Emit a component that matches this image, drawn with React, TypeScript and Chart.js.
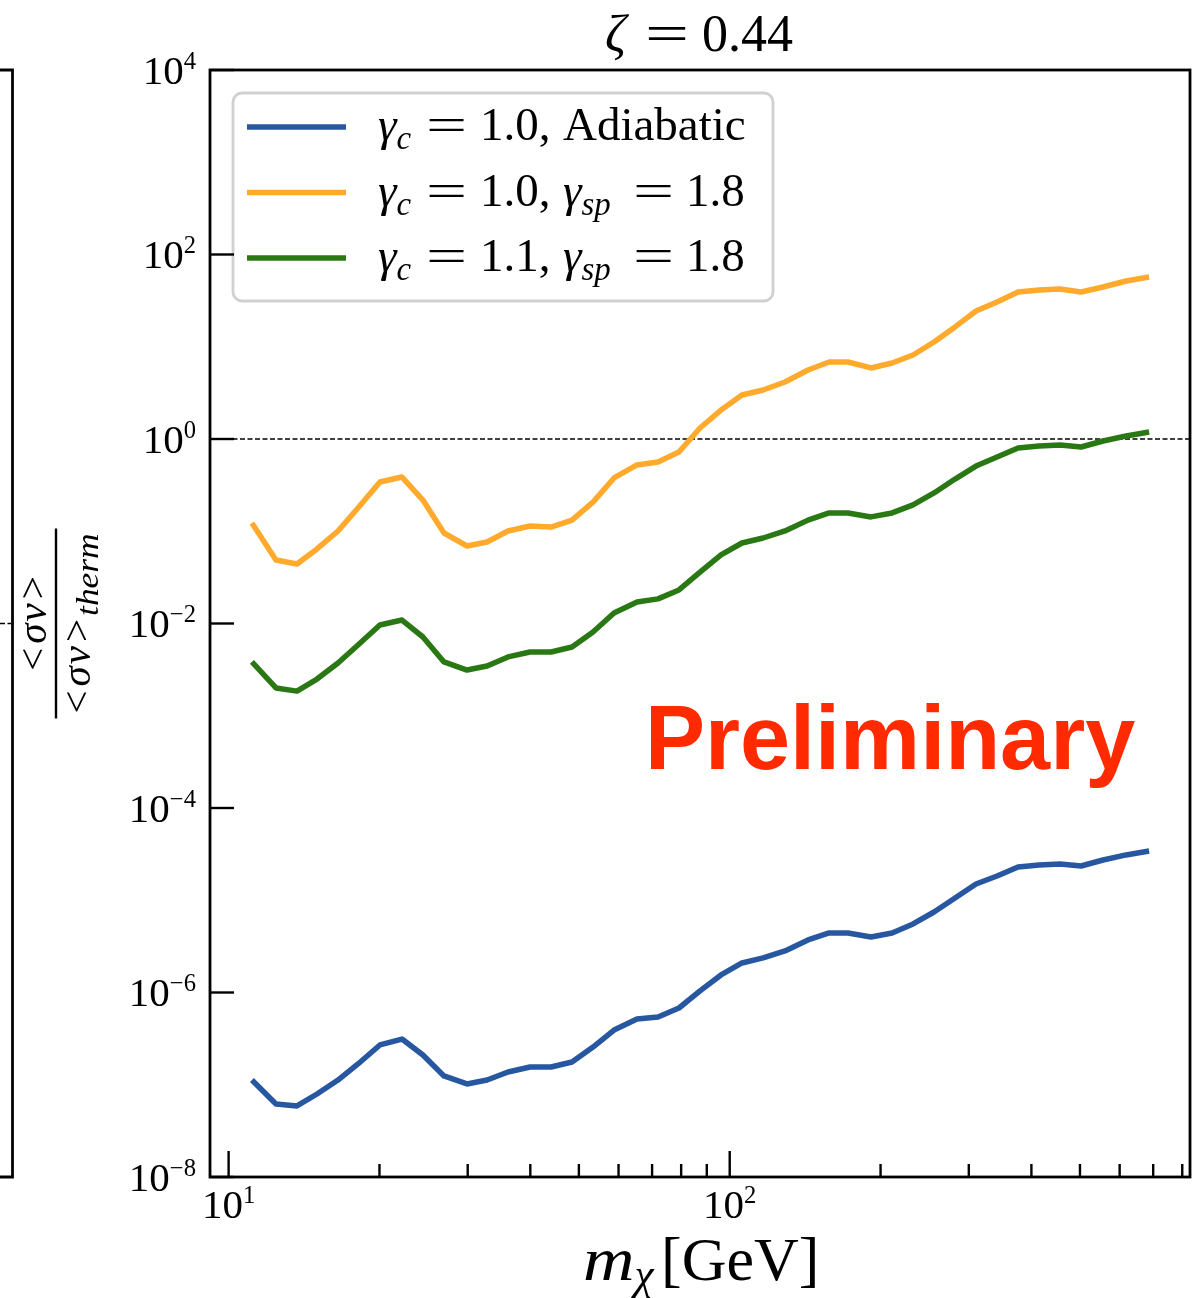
import React, { useEffect, useRef } from "react";
import { Chart, registerables } from "chart.js";

Chart.register(...registerables);

// ---------- data ----------
const MASS_GEV = [
  11.13, 12.43, 13.69, 15.01, 16.53, 18.12, 20.04, 22.18, 24.42, 26.9,
  29.9, 32.79, 36.11, 39.95, 44.0, 48.45, 53.36, 58.76, 65.31, 71.93,
  79.2, 87.25, 96.07, 105.8, 116.6, 128.9, 143.3, 157.9, 172.2, 191.4,
  210.9, 232.2, 255.7, 281.6, 310.1, 341.6, 376.2, 414.4, 456.3, 502.5,
  555.9, 618.0, 687.0,
];

const ADIABATIC_G10 = [
  1.125e-7, 6.18e-8, 5.89e-8, 7.94e-8, 1.125e-7, 1.68e-7, 2.7e-7, 3.13e-7, 2.1e-7, 1.245e-7,
  1.02e-7, 1.125e-7, 1.375e-7, 1.556e-7, 1.556e-7, 1.766e-7, 2.56e-7, 3.92e-7, 5.16e-7, 5.42e-7,
  6.79e-7, 1.04e-6, 1.55e-6, 2.09e-6, 2.37e-6, 2.82e-6, 3.71e-6, 4.42e-6, 4.42e-6, 4.0e-6,
  4.42e-6, 5.53e-6, 7.46e-6, 1.057e-5, 1.5e-5, 1.83e-5, 2.29e-5, 2.41e-5, 2.47e-5, 2.35e-5,
  2.73e-5, 3.1e-5, 3.42e-5,
];

const SPIKE_G10 = [
  0.123, 0.0488, 0.0442, 0.0643, 0.1007, 0.1787, 0.342, 0.387, 0.218, 0.0957,
  0.0692, 0.0764, 0.1007, 0.114, 0.111, 0.132, 0.207, 0.378, 0.523, 0.563,
  0.723, 1.315, 2.06, 3.0, 3.4, 4.15, 5.6, 6.84, 6.84, 5.89,
  6.67, 8.14, 11.25, 16.4, 24.4, 30.6, 39.2, 41.2, 42.3, 39.2,
  44.4, 51.6, 57.0,
];

const SPIKE_G11 = [
  0.00383, 0.002, 0.00185, 0.0025, 0.00373, 0.00585, 0.00964, 0.0109, 0.00714, 0.00383,
  0.00313, 0.00346, 0.00434, 0.00491, 0.00491, 0.00556, 0.00809, 0.013, 0.0171, 0.0185,
  0.0231, 0.0361, 0.0553, 0.0746, 0.0845, 0.1007, 0.132, 0.158, 0.158, 0.143,
  0.158, 0.193, 0.26, 0.368, 0.509, 0.638, 0.798, 0.839, 0.861, 0.819,
  0.951, 1.078, 1.19,
];

const REF_LEVEL = 1;

const X_MIN = 9.18;
const X_MAX = 829;
const Y_MIN = 1e-8;
const Y_MAX = 1e4;

const X_MAJOR_TICKS = [10, 100];
const X_MAJOR_EXP = ["1", "2"];
const X_MINOR_TICKS = [20, 30, 40, 50, 60, 70, 80, 90, 200, 300, 400, 500, 600, 700, 800];
const Y_MAJOR_TICKS = [1e-8, 1e-6, 1e-4, 1e-2, 1, 1e2, 1e4];
const Y_MAJOR_EXP = ["\u22128", "\u22126", "\u22124", "\u22122", "0", "2", "4"];

const COLORS = ["#2757a0", "#ffaa2c", "#2a7814"];
const SERIES = [ADIABATIC_G10, SPIKE_G10, SPIKE_G11];

const TITLE_TEXT = "0.44";
const PRELIM_TEXT = "Preliminary";

// ---------- rich text helper ----------
type Seg = { t: string; it?: boolean; sub?: boolean; sup?: boolean; gap?: number; at?: number; sx?: number };
const SERIF = '"Liberation Serif", "DejaVu Serif", serif';

type RichOpts = { sc?: number; up?: number; down?: number };

function segSize(s: Seg, size: number, o: RichOpts) {
  return s.sub || s.sup ? size * (o.sc ?? 0.7) : size;
}
function segFont(s: Seg, size: number, o: RichOpts) {
  return `${s.it ? "italic " : ""}${segSize(s, size, o)}px ${SERIF}`;
}
function segWidth(ctx: CanvasRenderingContext2D, s: Seg) {
  return ctx.measureText(s.t).width * (s.sx ?? 1);
}
function measureRich(ctx: CanvasRenderingContext2D, segs: Seg[], size: number, o: RichOpts) {
  let w = 0;
  for (const s of segs) {
    ctx.font = segFont(s, size, o);
    if (s.at !== undefined) w = s.at;
    w += (s.gap || 0) + segWidth(ctx, s);
  }
  return w;
}
function drawRich(
  ctx: CanvasRenderingContext2D,
  segs: Seg[],
  x: number,
  y: number,
  size: number,
  align: "left" | "center" | "right",
  o: RichOpts = {}
) {
  const w = measureRich(ctx, segs, size, o);
  const x0 = align === "center" ? x - w / 2 : align === "right" ? x - w : x;
  let cx = x0;
  ctx.textAlign = "left";
  ctx.textBaseline = "alphabetic";
  for (const s of segs) {
    if (s.at !== undefined) cx = x0 + s.at;
    cx += s.gap || 0;
    ctx.font = segFont(s, size, o);
    const dy = s.sup ? -(o.up ?? 0.36) * size : s.sub ? (o.down ?? 0.2) * size : 0;
    if (s.sx && s.sx !== 1) {
      ctx.save();
      ctx.translate(cx, y + dy);
      ctx.scale(s.sx, 1);
      ctx.fillText(s.t, 0, 0);
      ctx.restore();
    } else {
      ctx.fillText(s.t, cx, y + dy);
    }
    cx += segWidth(ctx, s);
  }
}

const EQ: Seg = { t: "=", sx: 1.55 };

const LEGEND_ROWS: Seg[][] = [
  [{ t: "\u03b3", it: true }, { t: "c", it: true, sub: true }, { ...EQ, at: 48 }, { t: "1.0,", at: 102 }, { t: "Adiabatic", at: 185 }],
  [
    { t: "\u03b3", it: true }, { t: "c", it: true, sub: true }, { ...EQ, at: 48 }, { t: "1.0,", at: 102 },
    { t: "\u03b3", it: true, at: 185 }, { t: "sp", it: true, sub: true }, { ...EQ, at: 255 }, { t: "1.8", at: 308 },
  ],
  [
    { t: "\u03b3", it: true }, { t: "c", it: true, sub: true }, { ...EQ, at: 48 }, { t: "1.1,", at: 102 },
    { t: "\u03b3", it: true, at: 185 }, { t: "sp", it: true, sub: true }, { ...EQ, at: 255 }, { t: "1.8", at: 308 },
  ],
];

const decorPlugin = {
  id: "decor",
  afterDraw(chart: any) {
    const ctx: CanvasRenderingContext2D = chart.ctx;
    const a = chart.chartArea;
    const xs = chart.scales.x;
    const ys = chart.scales.y;
    const midY = (a.top + a.bottom) / 2;
    const cx = (a.left + a.right) / 2;
    ctx.save();
    ctx.fillStyle = "#000";
    ctx.strokeStyle = "#000";

    // fragment of the neighbouring panel on the left
    ctx.lineWidth = 2.8;
    ctx.beginPath();
    ctx.moveTo(0, a.top);
    ctx.lineTo(12.5, a.top);
    ctx.lineTo(12.5, a.bottom);
    ctx.lineTo(0, a.bottom);
    ctx.stroke();
    ctx.lineWidth = 1.4;
    ctx.setLineDash([5, 2.5]);
    ctx.beginPath();
    ctx.moveTo(0, midY);
    ctx.lineTo(11, midY);
    ctx.stroke();
    ctx.setLineDash([]);

    // legend
    const lx = a.left + 23, ly = a.top + 23, lw = 540, lh = 208;
    ctx.beginPath();
    (ctx as any).roundRect(lx, ly, lw, lh, 9);
    ctx.fillStyle = "rgba(255,255,255,0.85)";
    ctx.fill();
    ctx.strokeStyle = "#d0d0d0";
    ctx.lineWidth = 2.8;
    ctx.stroke();
    LEGEND_ROWS.forEach((row, i) => {
      const rowY = ly + 34 + i * 65.5;
      ctx.strokeStyle = COLORS[i];
      ctx.lineWidth = 5.5;
      ctx.beginPath();
      ctx.moveTo(lx + 14, rowY);
      ctx.lineTo(lx + 113, rowY);
      ctx.stroke();
      ctx.fillStyle = "#000";
      drawRich(ctx, row, lx + 145, rowY + 13, 47, "left", { sc: 0.7, down: 0.2 });
    });

    // spines
    ctx.strokeStyle = "#000";
    ctx.lineWidth = 2.8;
    ctx.strokeRect(a.left, a.top, a.right - a.left, a.bottom - a.top);

    // y ticks + labels
    ctx.lineWidth = 2.4;
    ctx.fillStyle = "#000";
    Y_MAJOR_TICKS.forEach((v, i) => {
      const py = ys.getPixelForValue(v);
      ctx.beginPath();
      ctx.moveTo(a.left, py);
      ctx.lineTo(a.left + 24, py);
      ctx.stroke();
      drawRich(ctx, [{ t: "10" }, { t: Y_MAJOR_EXP[i], sup: true }], a.left - 14, py + 13.5, 41, "right", { sc: 0.6, up: 0.36 });
    });

    // x ticks + labels
    X_MAJOR_TICKS.forEach((v, i) => {
      const px = xs.getPixelForValue(v);
      ctx.beginPath();
      ctx.moveTo(px, a.bottom);
      ctx.lineTo(px, a.bottom - 26);
      ctx.stroke();
      drawRich(ctx, [{ t: "10" }, { t: X_MAJOR_EXP[i], sup: true }], px, a.bottom + 41, 41, "center", { sc: 0.6, up: 0.36 });
    });
    X_MINOR_TICKS.forEach((v) => {
      const px = xs.getPixelForValue(v);
      if (px < a.left || px > a.right) return;
      ctx.beginPath();
      ctx.moveTo(px, a.bottom);
      ctx.lineTo(px, a.bottom - 13);
      ctx.stroke();
    });

    // x axis title
    drawRich(
      ctx,
      [{ t: "m", it: true, sx: 1.15 }, { t: "\u03c7", it: true, sub: true }, { t: "[GeV]", at: 78 }],
      cx - 117, a.bottom + 103, 62, "left", { sc: 0.7, down: 0.15 }
    );

    // title
    drawRich(ctx, [{ t: "\u03b6", it: true }, { t: "=", at: 40, sx: 1.5 }, { t: TITLE_TEXT, at: 97 }], cx - 95, a.top - 19, 52, "left");

    // y axis label (fraction, rotated)
    ctx.save();
    ctx.translate(0, midY);
    ctx.rotate(-Math.PI / 2);
    const num: Seg[] = [{ t: "<" }, { t: "\u03c3", it: true, gap: 4 }, { t: "v", it: true, gap: 2 }, { t: ">", gap: 4 }];
    drawRich(ctx, num, 0, 46, 41, "center");
    ctx.lineWidth = 2.4;
    ctx.beginPath();
    ctx.moveTo(-95, 56);
    ctx.lineTo(95, 56);
    ctx.stroke();
    const den: Seg[] = [...num, { t: "therm", it: true, sub: true, gap: 3, sx: 1.15 }];
    drawRich(ctx, den, 0, 90, 41, "center", { sc: 0.75, down: 0.2 });
    ctx.restore();

    // watermark
    ctx.fillStyle = "#ff2a00";
    ctx.font = 'bold 90px "Liberation Sans", Arial, sans-serif';
    ctx.textAlign = "center";
    ctx.textBaseline = "alphabetic";
    ctx.fillText(PRELIM_TEXT, a.left + 0.694 * (a.right - a.left), a.top + 0.6314 * (a.bottom - a.top));

    ctx.restore();
  },
};

export default function App() {
  const ref = useRef<HTMLCanvasElement>(null);
  useEffect(() => {
    document.body.style.margin = "0";
    document.body.style.overflow = "hidden";
    const canvas = ref.current!;
    const datasets: any[] = SERIES.map((vals, i) => ({
      data: MASS_GEV.map((m, k) => ({ x: m, y: vals[k] })),
      borderColor: COLORS[i],
      borderWidth: 5.5,
      pointRadius: 0,
      tension: 0,
      fill: false,
      borderJoinStyle: "round",
      borderCapStyle: "butt",
    }));
    datasets.push({
      data: [
        { x: X_MIN, y: REF_LEVEL },
        { x: X_MAX, y: REF_LEVEL },
      ],
      borderColor: "#000",
      borderWidth: 1.4,
      borderDash: [5, 2.5],
      pointRadius: 0,
      tension: 0,
      fill: false,
    });
    const chart = new Chart(canvas, {
      type: "line",
      data: { datasets },
      options: {
        responsive: false,
        animation: false,
        devicePixelRatio: 1,
        events: [],
        layout: { padding: { left: 210, top: 70, right: 9, bottom: 121 } },
        plugins: {
          legend: { display: false },
          title: { display: false },
          tooltip: { enabled: false },
        },
        scales: {
          x: { type: "logarithmic", min: X_MIN, max: X_MAX, display: false },
          y: { type: "logarithmic", min: Y_MIN, max: Y_MAX, display: false },
        },
      } as any,
      plugins: [decorPlugin],
    });
    return () => chart.destroy();
  }, []);
  return <canvas ref={ref} width={1199} height={1298} style={{ display: "block", background: "#fff" }} />;
}
